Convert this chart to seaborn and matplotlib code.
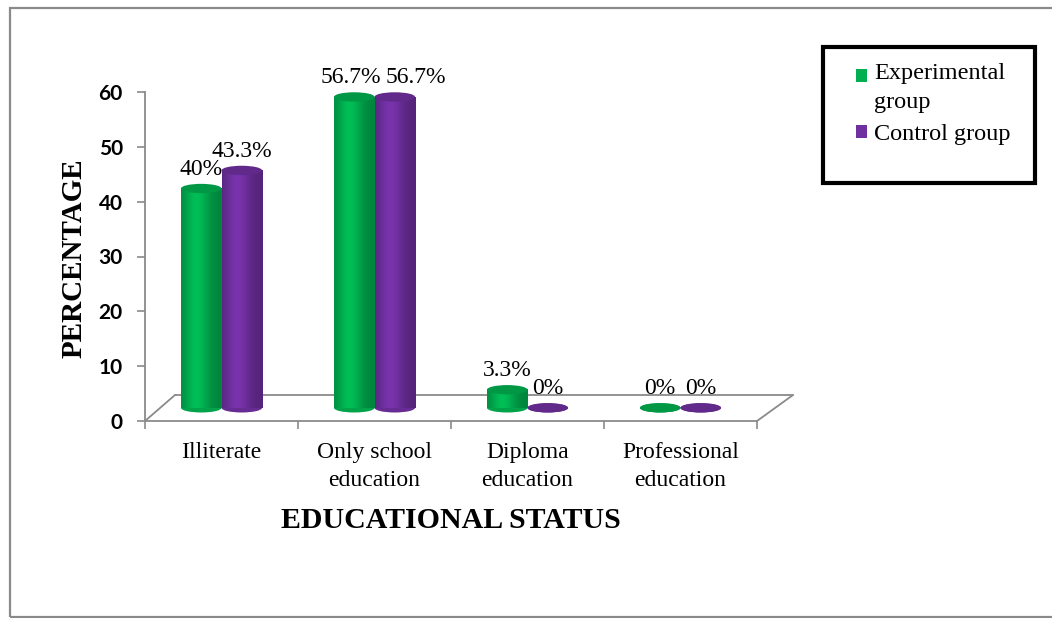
import numpy as np
import pandas as pd
import matplotlib
matplotlib.use("Agg")
import matplotlib.pyplot as plt
from matplotlib.patches import Ellipse, Rectangle, Patch
from matplotlib.legend_handler import HandlerPatch
import matplotlib.colors as mcolors
import seaborn as sns

# ---------------- data ----------------
categories = ["Illiterate", "Only school\neducation", "Diploma\neducation", "Professional\neducation"]
groups = ["Experimental group", "Control group"]
legend_labels = ["Experimental\ngroup", "Control group"]
experimental = [40, 56.7, 3.3, 0]
control = [43.3, 56.7, 0, 0]
value_labels_exp = ["40%", "56.7%", "3.3%", "0%"]
value_labels_ctl = ["43.3%", "56.7%", "0%", "0%"]
yticks = [0, 10, 20, 30, 40, 50, 60]
colors = ["#00B050", "#7030A0"]

df = pd.DataFrame({
    "category": categories * 2,
    "group": [groups[0]] * 4 + [groups[1]] * 4,
    "value": experimental + control,
})

sns.set_theme(style="white")
plt.rcParams["font.family"] = ["Liberation Serif", "DejaVu Serif"]
plt.rcParams.update({"text.color": "black", "axes.labelcolor": "black",
                     "xtick.color": "black", "ytick.color": "black"})

W, H = 1052, 618
fig = plt.figure(figsize=(W / 100, H / 100), dpi=100)

def px(x0, y0, x1, y1):
    return [x0 / W, 1 - y1 / H, (x1 - x0) / W, (y1 - y0) / H]

# outer chart border
fig.add_artist(Rectangle((10 / W, 1 / H), 1.2, (616 - 7) / H, transform=fig.transFigure,
                         fill=False, edgecolor="#8a8a8a", linewidth=1.6))

pos = px(145, 92, 757, 421)
ax = fig.add_axes(pos)
ax.set_xlim(-0.5, 3.5)
ax.set_ylim(0, 60)
ax.set_facecolor("none")
for s in ["top", "right"]:
    ax.spines[s].set_visible(False)
for s in ["left", "bottom"]:
    ax.spines[s].set_color("#8a8a8a")
    ax.spines[s].set_linewidth(1.3)
ax.set_yticks(yticks)
ax.set_yticklabels([str(t) for t in yticks], fontfamily="Lato", fontweight="bold", fontsize=15)
ax.tick_params(axis="y", left=True, length=6, width=1.2, color="#8a8a8a", labelcolor="black",
               pad=10, direction="out")
ax.set_xticks(range(len(categories)))
ax.set_xticklabels(categories, fontsize=17, linespacing=1.45)
ax.set_xticks(np.arange(-0.5, len(categories), 1.0), minor=True)
ax.tick_params(axis="x", which="major", length=0, pad=15, labelcolor="black")
ax.tick_params(axis="x", which="minor", bottom=True, length=6, width=1.2, color="#8a8a8a", direction="out")

# 3D floor outline
depth_y = 26 / (329 / 60)
dl = 30 / 153
dr = 36 / 153
floor_kw = dict(color="#8a8a8a", linewidth=1.3, clip_on=False, zorder=1)
ax.plot([-0.5, -0.5 + dl], [0, depth_y], **floor_kw)
ax.plot([3.5, 3.5 + dr], [0, depth_y], **floor_kw)
ax.plot([-0.5 + dl, 3.5 + dr], [depth_y, depth_y], **floor_kw)

ax.set_xlabel("EDUCATIONAL STATUS", fontsize=21.5, fontweight="bold", color="black")
ax.set_ylabel("PERCENTAGE", fontsize=21, fontweight="bold", color="black")
ax.xaxis.label.set_va("center")
ax.yaxis.label.set_va("center")
ax.xaxis.set_label_coords(0.5, (421 - 521) / 329)
ax.yaxis.set_label_coords((74 - 145) / 612, (421 - 258) / 329)

# bars axis (shifted baseline for 3D look)
base = 2.4
ax2 = fig.add_axes(pos, zorder=3)
ax2.set_facecolor("none")
sns.barplot(data=df, x="category", y="value", hue="group", palette=colors,
            width=0.53, saturation=1, ax=ax2, legend=False, linewidth=0)

ell_h = 1.7
def shade_rgb(c, f):
    r = np.array(mcolors.to_rgb(c))
    return np.clip(r * f, 0, 1)

bars = [p for p in ax2.patches if isinstance(p, Rectangle) and p.get_width() > 0]
for p in bars:
    x0 = p.get_x(); w = p.get_width(); h = p.get_height()
    col = p.get_facecolor()[:3]
    xc = x0 + w / 2
    t = np.linspace(0, 1, 80)
    prof = 0.76 + 0.32 * np.exp(-((t - 0.38) / 0.30) ** 2)
    grad = np.clip(np.array(col)[None, None, :] * prof[None, :, None], 0, 1)
    ax2.add_patch(Ellipse((xc, 0), w, ell_h, facecolor=shade_rgb(col, 0.92), edgecolor="none", zorder=2))
    if h > 0:
        ax2.imshow(grad, extent=[x0, x0 + w, 0, h], aspect="auto", zorder=3, interpolation="bilinear")
    ax2.add_patch(Ellipse((xc, h), w, ell_h, facecolor=shade_rgb(col, 0.86), edgecolor="none", zorder=4))
    p.set_visible(False)

ax2.set_xlim(-0.5, 3.5)
ax2.set_ylim(-base, 60 - base)
ax2.axis("off")

# value labels
n = len(categories)
exp_bars = bars[:n]
ctl_bars = bars[n:]
for i in range(n):
    pair = [(exp_bars[i], value_labels_exp[i], experimental[i]),
            (ctl_bars[i], value_labels_ctl[i], control[i])]
    crowded = abs(experimental[i] - control[i]) < 1 and experimental[i] > 10
    for k, (bar, lab, val) in enumerate(pair):
        xc = bar.get_x() + bar.get_width() / 2
        ha = "center"
        if crowded:
            xc = i + (0.045 if k == 0 else 0.075)
            ha = "right" if k == 0 else "left"
        ax2.text(xc, val + 3.5, lab, ha=ha, va="center", fontsize=17, color="black",
                 clip_on=False, zorder=5)

# legend
leg_fs = 17.5
leg_ls = 1.5
pitch_pt = leg_ls * 0.86 * leg_fs


class TopLineHandler(HandlerPatch):
    def __init__(self, nlines, **kw):
        super().__init__(**kw)
        self.shift = (nlines - 1) * pitch_pt * 0.38

    def create_artists(self, legend, orig_handle, xdescent, ydescent, width, height, fontsize, trans):
        arts = super().create_artists(legend, orig_handle, xdescent, ydescent, width, height, fontsize, trans)
        for a in arts:
            a.set_y(a.get_y() + self.shift)
        return arts


fig.add_artist(Rectangle((823 / W, 1 - 183 / H), (1035 - 823) / W, (183 - 47) / H,
                         transform=fig.transFigure, fill=False, edgecolor="black", linewidth=3))
handles = [Patch(facecolor=c, edgecolor="none") for c in colors]
hmap = {h: TopLineHandler(lab.count("\n") + 1) for h, lab in zip(handles, legend_labels)}
leg = fig.legend(handles, legend_labels, loc="upper left", bbox_to_anchor=(856 / W, 1 - 63 / H),
                 frameon=False, fontsize=leg_fs, handlelength=0.45, handleheight=0.45,
                 handletextpad=0.3, labelspacing=0.45, borderpad=0, borderaxespad=0,
                 handler_map=hmap, prop={"size": leg_fs}, labelcolor="black")
for t in leg.get_texts():
    t.set_linespacing(leg_ls)

fig.savefig("out.png", dpi=100, facecolor="white")
